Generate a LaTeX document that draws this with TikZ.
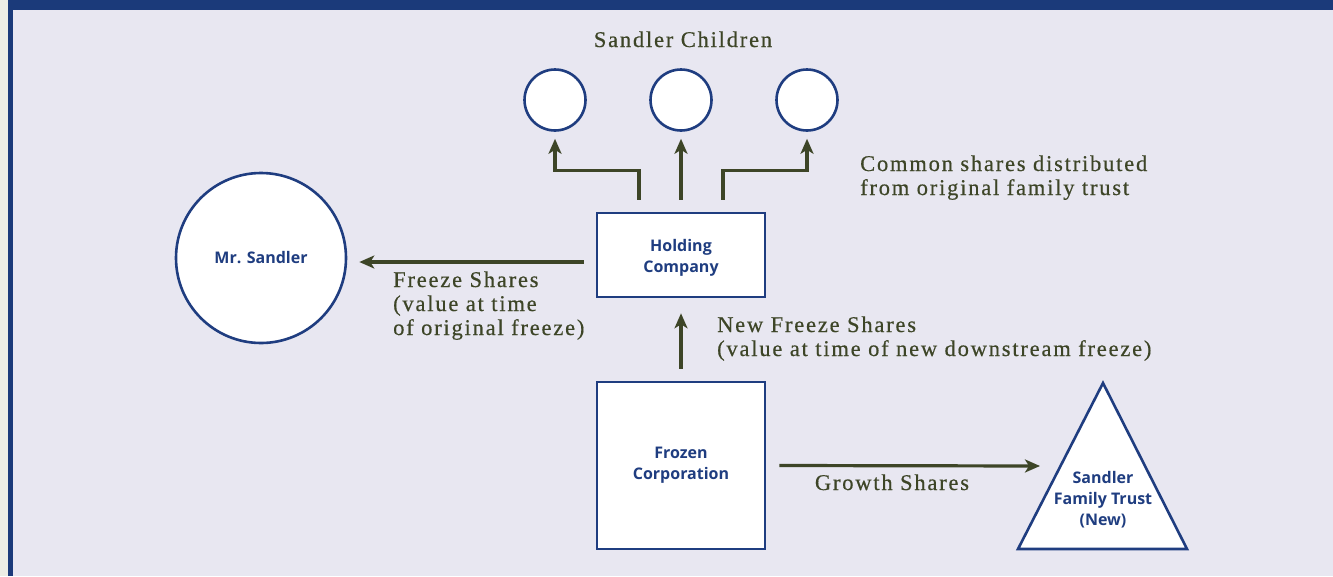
\documentclass[tikz,border=0pt]{standalone}
\usepackage{fontspec}
\setmainfont{Liberation Serif}
\newfontfamily\labelfont{Open Sans}
\usetikzlibrary{arrows.meta,calc}
\definecolor{frameblue}{HTML}{1B3A7A}
\definecolor{bgl}{HTML}{E8E7F1}
\definecolor{cream}{HTML}{ECEDE5}
\definecolor{olive}{HTML}{3D4527}
\definecolor{nodeblue}{HTML}{1F3D80}
\tikzset{
  kid/.style={circle,draw=nodeblue,fill=white,line width=2.6pt,minimum size=61pt,inner sep=0pt},
  bignode/.style={circle,draw=nodeblue,fill=white,line width=2.6pt,minimum size=170pt,inner sep=0pt,font=\labelfont\bfseries\fontsize{16}{21}\selectfont,text=nodeblue},
  boxnode/.style={rectangle,draw=nodeblue,fill=white,line width=2.6pt,minimum width=168pt,inner sep=0pt,align=center,font=\labelfont\bfseries\fontsize{16}{21}\selectfont,text=nodeblue},
  innertext/.style={align=center,font=\labelfont\bfseries\fontsize{16}{21}\selectfont,text=nodeblue,inner sep=0pt},
  arr/.style={draw=olive,line width=3.2pt,-{Stealth[length=15pt,width=13pt,inset=4pt]}},
  caption/.style={text=olive,font=\fontsize{22.5}{24}\selectfont\addfontfeatures{LetterSpace=8,FakeBold=0.5},align=left,inner sep=0pt}
}
\begin{document}
\begin{tikzpicture}[x=1pt,y=-1pt]
\fill[cream] (0,0) rectangle (1333,576);
\fill[bgl] (8,0) rectangle (1333,576);
\fill[frameblue] (8,0) rectangle (13,576);
\fill[frameblue] (8,0) rectangle (1333,10);
\useasboundingbox (0,0) rectangle (1333,576);

\node[caption,anchor=base] (kidslabel) at (683,47) {Sandler Children};
\node[kid] (c1) at (555,100) {};
\node[kid] (c2) at (681,100) {};
\node[kid] (c3) at (807,100) {};

\node[boxnode,minimum height=84pt] (hold) at (681,255) {};
\node[innertext] (holdtext) at (681,258) {Holding\\Company};
\node[boxnode,minimum height=167pt] (frozen) at (681,465.5) {Frozen\\Corporation};
\node[bignode] (mr) at (261,258) {Mr. Sandler};

\draw[draw=nodeblue,fill=white,line width=2.6pt,line join=miter] (1103,383) -- (1187,549) -- (1018,549) -- cycle;
\node[innertext] (trust) at (1103,500) {Sandler\\Family Trust\\(New)};
\coordinate (trustedge) at (1060,466);

% children arrows
\draw[arr] ($(hold.north)+(-42,-12)$) -- ++(0,-29) -| ($(c1.south)+(0,7)$);
\draw[arr] ($(hold.north)+(0,-12)$) -- ($(c2.south)+(0,7)$);
\draw[arr] ($(hold.north)+(42,-12)$) -- ++(0,-29) -| ($(c3.south)+(0,7)$);

% freeze shares
\coordinate (fs0) at ($(hold.west)+(-12,7)$);
\coordinate (fs1) at ($(mr.east)+(12,0)$);
\draw[arr] (fs0) -- (fs0 -| fs1);

% new freeze shares
\draw[arr] ($(frozen.north)+(0,-12)$) -- ($(hold.south)+(0,15)$);

% growth shares
\draw[arr] ($(frozen.east)+(13,0)$) -- ($(trustedge)+(-20,0)$);

\node[caption,anchor=base west] (cs) at (860,195) {Common shares distributed\\from original family trust};
\node[caption,anchor=base west] (fz) at (393,335) {Freeze Shares\\(value at time\\of original freeze)};
\node[caption,anchor=base west] (nf) at (717,356) {New Freeze Shares\\(value at time of new downstream freeze)};
\node[caption,anchor=base] (gs) at (892,490) {Growth Shares};
\end{tikzpicture}
\end{document}
